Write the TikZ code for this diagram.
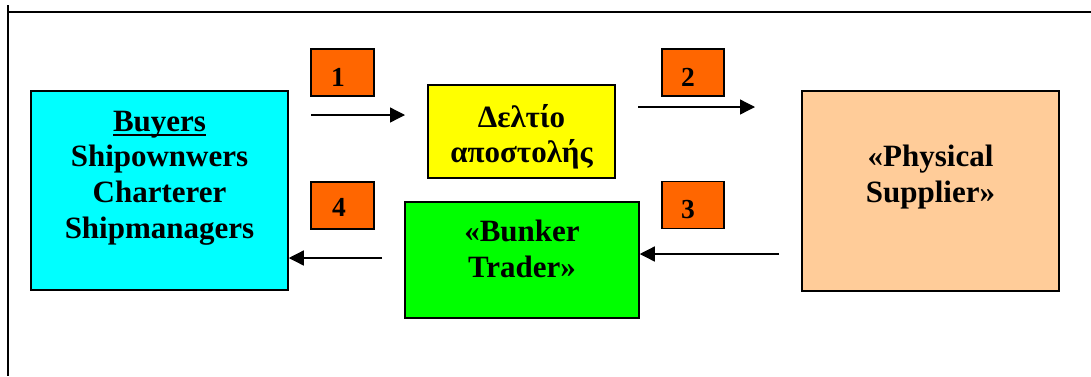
\documentclass[tikz,border=0pt]{standalone}
\usepackage{fontspec}
\setmainfont{Liberation Serif}
\usetikzlibrary{arrows.meta}

\definecolor{buyercyan}{HTML}{00FFFF}
\definecolor{docyellow}{HTML}{FFFF00}
\definecolor{tradergreen}{HTML}{00FF00}
\definecolor{supplierpeach}{HTML}{FFCC99}
\definecolor{steporange}{HTML}{FF6600}

% Word-style underline at a fixed distance below the baseline
\newcommand\wordunder[1]{\setbox0\hbox{#1}\rlap{\rule[-4.6pt]{\wd0}{2pt}}\box0}

\tikzset{
  party/.style={draw=black, line width=1.5pt, inner sep=0pt},
  partytext/.style={anchor=north, inner sep=0pt, align=center,
    font=\fontsize{31}{35.6}\selectfont\bfseries},
  stepbox/.style={draw=black, line width=1.3pt, fill=steporange, inner sep=0pt,
    minimum height=47pt},
  steptext/.style={anchor=base, inner sep=0pt, font=\fontsize{27.5}{30}\selectfont\bfseries},
  flow/.style={draw=black, line width=1.3pt, -{Triangle[length=15pt,width=15pt]}},
  frame/.style={draw=black, line width=1.4pt}
}

\begin{document}
\begin{tikzpicture}[x=1pt, y=-1pt]
  \useasboundingbox (0,0) rectangle (1091,376);

  % open frame: top rule and left rule
  \coordinate (ftl) at (8,12);
  \coordinate (fbl) at (8,376);
  \coordinate (ftop) at (8,5);
  \coordinate (ftr) at (1091,12);
  \draw[frame] (ftop) -- (fbl);
  \draw[frame] (ftl) -- (ftr);

  % parties
  \node[party, fill=buyercyan, minimum width=257pt, minimum height=199pt] (buyers) at (159.5,190.5) {};
  \node[partytext] (buyerstext) at (159.5,110.7)
    {\wordunder{Buyers}\\Shipownwers\\Charterer\\Shipmanagers};

  \node[party, fill=docyellow, minimum width=187pt, minimum height=93pt] (doc) at (521.5,131.5) {};
  \node[partytext] (doctext) at (521.5,103.8) {Δελτίο\\αποστολής};

  \node[party, fill=tradergreen, minimum width=234pt, minimum height=116pt] (trader) at (522,260) {};
  \node[partytext] (tradertext) at (522,220) {«Bunker\\Trader»};

  \node[party, fill=supplierpeach, minimum width=257pt, minimum height=200pt] (supplier) at (930.5,191) {};
  \node[partytext] (suppliertext) at (930.5,144.7) {«Physical\\Supplier»};

  % numbered steps
  \node[stepbox, minimum width=63pt] (s1) at (342.5,72.5) {};
  \node[steptext] (s1t) at (338,86) {1};
  \node[stepbox, minimum width=62pt] (s2) at (693,72.5) {};
  \node[steptext] (s2t) at (688,86.5) {2};
  \node[stepbox, minimum width=62pt] (s3) at (693,205) {};
  \node[steptext] (s3t) at (688,218) {3};
  \node[stepbox, minimum width=63pt] (s4) at (342.5,205.5) {};
  \node[steptext] (s4t) at (339,216.7) {4};

  % flows
  \coordinate (a1s) at (311,115);
  \coordinate (a1e) at (405,115);
  \coordinate (a2s) at (638,107);
  \coordinate (a2e) at (755,107);
  \coordinate (a3s) at (779,254);
  \coordinate (a4s) at (382,258);
  \draw[flow] (a1s) -- (a1e);
  \draw[flow] (a2s) -- (a2e);
  \draw[flow] (a3s) -- (trader.east |- a3s);
  \draw[flow] (a4s) -- (buyers.east |- a4s);
\end{tikzpicture}
\end{document}
